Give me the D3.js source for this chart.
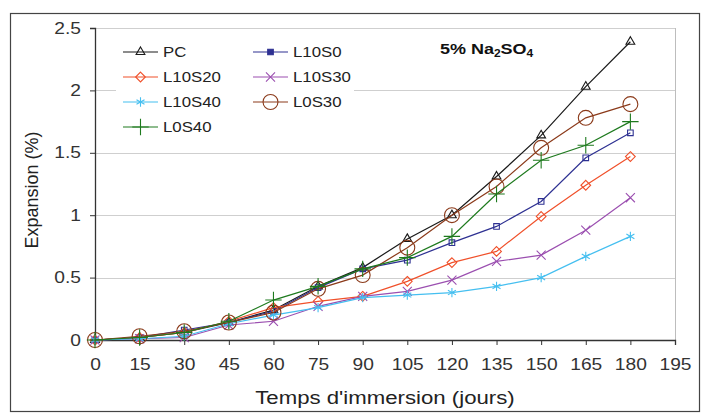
<!DOCTYPE html>
<html>
<head>
<meta charset="utf-8">
<script src="https://cdn.jsdelivr.net/npm/d3@7"></script>
<style>
  body { margin: 0; background: #fff; }
  svg text { font-family: "Liberation Sans", Arial, sans-serif; }
  .sx { transform-box: fill-box; transform-origin: center; transform: scaleX(1.2); }
  .sx.left { transform-origin: left center; }
  .sx.right { transform-origin: right center; }
</style>
</head>
<body>
<div id="app"></div>
<script>
const days = [0, 15, 30, 45, 60, 75, 90, 105, 120, 135, 150, 165, 180];
const xTicks = [0, 15, 30, 45, 60, 75, 90, 105, 120, 135, 150, 165, 180, 195];
const yTicks = [0, 0.5, 1, 1.5, 2, 2.5];

const seriesNames = ["PC", "L10S0", "L10S20", "L10S30", "L10S40", "L0S30", "L0S40"];
const pc     = [0, 0.02, 0.06, 0.14, 0.24, 0.43, 0.58, 0.81, 1.0, 1.31, 1.64, 2.03, 2.39];
const l10s0  = [0, 0.02, 0.08, 0.14, 0.23, 0.42, 0.57, 0.64, 0.78, 0.91, 1.11, 1.46, 1.66];
const l10s20 = [0, 0.02, 0.06, 0.15, 0.26, 0.31, 0.35, 0.47, 0.62, 0.71, 0.99, 1.24, 1.47];
const l10s30 = [0, 0.01, 0.02, 0.12, 0.15, 0.27, 0.35, 0.39, 0.48, 0.63, 0.68, 0.88, 1.14];
const l10s40 = [0, 0.01, 0.03, 0.13, 0.20, 0.26, 0.34, 0.36, 0.38, 0.43, 0.50, 0.67, 0.83];
const l0s30  = [0, 0.03, 0.07, 0.14, 0.22, 0.41, 0.52, 0.74, 1.0, 1.23, 1.54, 1.78, 1.89];
const l0s40  = [0, 0.02, 0.06, 0.15, 0.32, 0.43, 0.57, 0.66, 0.83, 1.17, 1.44, 1.56, 1.75];

const width = 703;
const height = 415;
const margin = { left: 95, right: 28, top: 28, bottom: 75 };

const styles = [
  { color: "#1a1a1a", symbol: d3.symbolTriangle2, size: 55 },
  { color: "#2e3192", symbol: d3.symbolSquare2, size: 40 },
  { color: "#f0502a", symbol: d3.symbolDiamond2, size: 60 },
  { color: "#9b4fb0", symbol: d3.symbolX, size: 55 },
  { color: "#45bff0", symbol: d3.symbolAsterisk, size: 60 },
  { color: "#8b3a1a", symbol: d3.symbolCircle, size: 175 },
  { color: "#1e7a1e", symbol: d3.symbolPlus, size: 90 }
];

const dataset = [pc, l10s0, l10s20, l10s30, l10s40, l0s30, l0s40].map((vals, i) => ({
  name: seriesNames[i],
  style: styles[i],
  points: vals.map((v, j) => [days[j], v])
}));

const xScale = d3.scaleLinear().domain([0, 195]).range([margin.left, width - margin.right]);
const yScale = d3.scaleLinear().domain([0, 2.5]).range([height - margin.bottom, margin.top]);

const svg = d3.select("#app").append("svg").attr("width", width).attr("height", height);

// outer frame
svg.append("rect")
  .attr("x", 10.5).attr("y", 13.5)
  .attr("width", 689).attr("height", 398)
  .attr("fill", "none").attr("stroke", "#444").attr("stroke-width", 1.2);

// gridlines
svg.append("g")
  .selectAll("line")
  .data(yTicks.slice(1))
  .enter()
  .append("line")
  .attr("x1", margin.left).attr("x2", width - margin.right)
  .attr("y1", d => Math.round(yScale(d)) + 0.5).attr("y2", d => Math.round(yScale(d)) + 0.5)
  .attr("stroke", "#cfcfcf");

svg.append("line")
  .attr("x1", width - margin.right + 0.5).attr("x2", width - margin.right + 0.5)
  .attr("y1", margin.top).attr("y2", height - margin.bottom)
  .attr("stroke", "#bdbdbd");

// axes
const xAxis = d3.axisBottom(xScale).tickValues(xTicks).tickSize(5).tickPadding(14).tickFormat(d => d);
const yAxis = d3.axisLeft(yScale).tickValues(yTicks).tickSize(5).tickPadding(9).tickFormat(d => d);

const gx = svg.append("g")
  .attr("transform", `translate(0, ${height - margin.bottom})`)
  .call(xAxis);
const gy = svg.append("g")
  .attr("transform", `translate(${margin.left}, 0)`)
  .call(yAxis);

[gx, gy].forEach(g => {
  g.select(".domain").attr("stroke", "#333").attr("stroke-width", 1.3);
  g.selectAll(".tick line").attr("stroke", "#333");
  g.selectAll(".tick text")
    .attr("fill", "#333")
    .style("font-size", "16px")
    .style("font-family", "'Liberation Sans', Arial, sans-serif");
});
gx.selectAll(".tick text").attr("class", "sx");
gy.selectAll(".tick text").attr("class", "sx right");

// series
const line = d3.line().x(d => xScale(d[0])).y(d => yScale(d[1]));

const series = svg.append("g")
  .selectAll("g")
  .data(dataset)
  .enter()
  .append("g");

series.append("path")
  .attr("d", d => line(d.points))
  .attr("fill", "none")
  .attr("stroke", d => d.style.color)
  .attr("stroke-width", 1.2);

series.each(function(s) {
  d3.select(this)
    .selectAll("path.mark")
    .data(s.points)
    .enter()
    .append("path")
    .attr("class", "mark")
    .attr("transform", d => `translate(${xScale(d[0])}, ${yScale(d[1])})`)
    .attr("d", d3.symbol(s.style.symbol, s.style.size))
    .attr("fill", "none")
    .attr("stroke", s.style.color)
    .attr("stroke-width", 1.1);
});

// legend
svg.append("rect")
  .attr("x", 116).attr("y", 38)
  .attr("width", 238).attr("height", 102)
  .attr("fill", "#fff");

const legend = svg.append("g")
  .selectAll("g")
  .data(dataset)
  .enter()
  .append("g")
  .attr("transform", (d, i) => `translate(${i % 2 === 0 ? 123 : 253}, ${52 + Math.floor(i / 2) * 25})`);

legend.append("line")
  .attr("x1", 0).attr("x2", 35)
  .attr("stroke", d => d.style.color)
  .attr("stroke-width", 1.2);

legend.append("path")
  .attr("transform", "translate(17.5, 0)")
  .attr("d", d => d3.symbol(d.style.symbol, d.style.size)())
  .attr("fill", d => d.name === "L10S0" ? d.style.color : "none")
  .attr("stroke", d => d.style.color)
  .attr("stroke-width", 1.1);

legend.append("text")
  .attr("class", "sx left")
  .attr("x", 40)
  .attr("dy", "0.36em")
  .attr("fill", "#222")
  .style("font-size", "14px")
  .text(d => d.name);

// annotation
const note = svg.append("text")
  .attr("class", "sx left")
  .attr("x", 440).attr("y", 54)
  .attr("fill", "#111")
  .style("font-size", "15px")
  .style("font-weight", "bold");
note.append("tspan").text("5% Na");
note.append("tspan").attr("dy", 3).style("font-size", "10px").text("2");
note.append("tspan").attr("dy", -3).text("SO");
note.append("tspan").attr("dy", 3).style("font-size", "10px").text("4");

// axis titles
svg.append("text")
  .attr("class", "sx")
  .attr("x", (margin.left + width - margin.right) / 2)
  .attr("y", 404)
  .attr("text-anchor", "middle")
  .attr("fill", "#222")
  .style("font-size", "18.5px")
  .text("Temps d'immersion (jours)");

svg.append("text")
  .attr("transform", "translate(38, 190) rotate(-90)")
  .attr("text-anchor", "middle")
  .attr("fill", "#222")
  .style("font-size", "18px")
  .text("Expansion (%)");
</script>
</body>
</html>
